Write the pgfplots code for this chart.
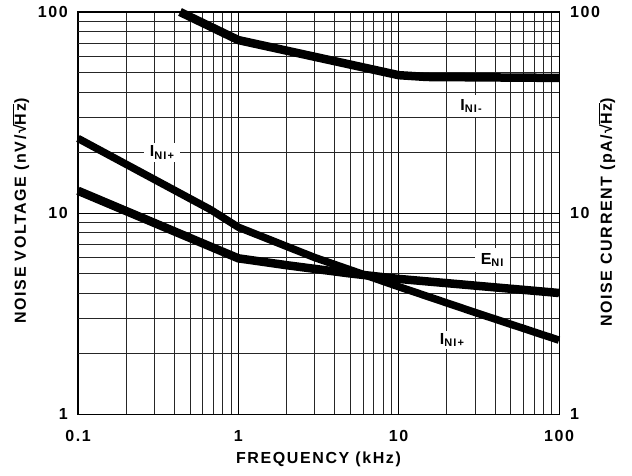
\documentclass[border=0pt]{standalone}
\usepackage{fontspec}
\usepackage{pgfplots}
\pgfplotsset{compat=1.18}
\newfontfamily\chartfont{Liberation Sans}[LetterSpace=10]
\newcommand\cf{\chartfont\bfseries\fontsize{16}{19}\selectfont}
\newcommand\sub[1]{\raisebox{-2.5pt}{\chartfont\bfseries\fontsize{11}{13}\selectfont #1}}
\begin{document}
\begin{tikzpicture}
\path[use as bounding box] (-78pt,-61pt) rectangle (554pt,414pt);
\begin{axis}[
  scale only axis, width=481pt, height=402pt,
  xmode=log, ymode=log,
  xmin=0.1, xmax=100, ymin=1, ymax=100,
  xtick={0.1,1,10,100}, xticklabels={0.1,1,10,100},
  ytick={1,10,100}, yticklabels={1,10,100},
  minor xtick={0.2,0.3,0.4,0.5,0.6,0.7,0.8,0.9,2,3,4,5,6,7,8,9,20,30,40,50,60,70,80,90},
  minor ytick={2,3,4,5,6,7,8,9,20,30,40,50,60,70,80,90},
  grid=both,
  major grid style={black, line width=0.9pt},
  minor grid style={black!85, line width=0.9pt},
  major tick length=0pt, minor tick length=0pt,
  axis line style={black, line width=1pt},
  tick label style={font=\cf, inner sep=0pt},
  xticklabel style={anchor=center, yshift=-22pt},
  yticklabel style={anchor=east, xshift=-10pt},
  xlabel={FREQUENCY (kHz)},
  xlabel style={font=\cf, at={(axis description cs:0.5,-0.112)}, anchor=center},
  ylabel={NOISE VOLTAGE (nV/√$\overline{\mbox{Hz}}$)},
  ylabel style={font=\cf, at={(axis description cs:-0.1185,0.505)}, anchor=center},
  clip=false,
]
% I_NI- (upper)
\addplot[black, line width=8.5pt, line join=round] coordinates {
 (0.433,100) (1,72.5) (10,48.5) (15,47.5) (100,47)};
% I_NI+
\addplot[black, line width=7.5pt, line join=round] coordinates {
 (0.1,23.5) (0.67,10.4) (1,8.5) (3,6.0) (10,4.3) (30,3.2) (100,2.33)};
% E_NI
\addplot[black, line width=8.5pt, line join=round] coordinates {
 (0.1,12.9) (1,5.95) (2,5.5) (5,5.0) (10,4.7) (100,4.0)};
\node[fill=white, inner xsep=6pt, inner ysep=3pt, font=\cf] at (axis cs:0.334,20) {I\sub{NI+}};
\node[fill=white, inner xsep=6pt, inner ysep=4pt, font=\cf] at (axis cs:28.3,34) {I\sub{NI-}};
\node[fill=white, inner xsep=6pt, inner ysep=5pt, font=\cf] at (axis cs:38.3,5.83) {E\sub{NI}};
\node[fill=white, inner xsep=3pt, inner ysep=2pt, font=\cf] at (axis cs:21.5,2.33) {I\sub{NI+}};
\end{axis}
\begin{axis}[
  scale only axis, width=481pt, height=402pt,
  xmode=log, ymode=log,
  xmin=0.1, xmax=100, ymin=1, ymax=100,
  hide x axis,
  axis y line*=right,
  ytick={1,10,100}, yticklabels={1,10,100},
  minor ytick={},
  major tick length=0pt, minor tick length=0pt,
  axis line style={black, line width=1pt},
  yticklabel style={font=\cf, inner sep=0pt, anchor=west, xshift=11pt},
  ylabel={NOISE CURRENT (pA/√$\overline{\mbox{Hz}}$)},
  ylabel style={font=\cf, at={(axis description cs:1.0998,0.502)}, anchor=center},
]
\end{axis}
\end{tikzpicture}
\end{document}
